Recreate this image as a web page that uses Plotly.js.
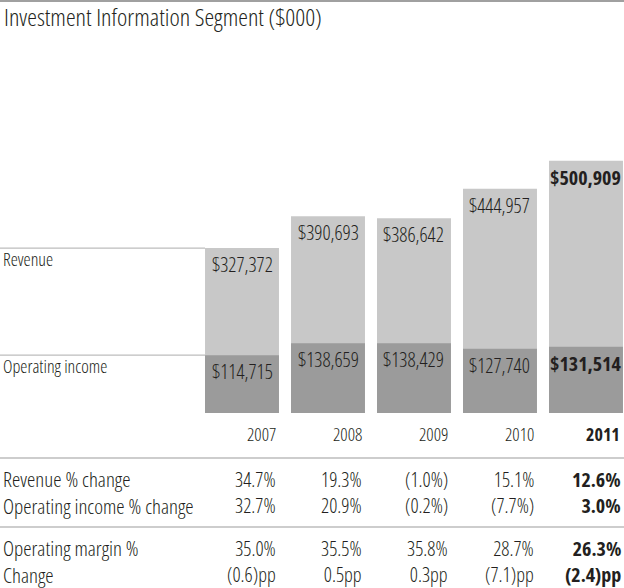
<!DOCTYPE html>
<html><head><meta charset="utf-8">
<script src="https://cdn.plot.ly/plotly-3.0.1.min.js"></script>
<style>
html,body{margin:0;padding:0;background:#fff}
#chart{width:624px;height:588px}
svg text, svg tspan{font-stretch:75% !important;}
</style>
</head><body><div id="chart"></div>
<script>
const years = ['2007','2008','2009','2010','2011'];
const revenue = [327372, 390693, 386642, 444957, 500909];
const opIncome = [114715, 138659, 138429, 127740, 131514];
const rowLabels = ['Revenue % change','Operating income % change','Operating margin %','Change'];
const revChange = ['34.7%','19.3%','(1.0%)','15.1%','12.6%'];
const opChange = ['32.7%','20.9%','(0.2%)','(7.7%)','3.0%'];
const opMargin = ['35.0%','35.5%','35.8%','28.7%','26.3%'];
const marginChange = ['(0.6)pp','0.5pp','0.3pp','(7.1)pp','(2.4)pp'];
const seriesNames = ['Revenue','Operating income'];
const title = 'Investment Information Segment ($000)';

const W = 624, H = 588;
const FONT = '"Open Sans", sans-serif';
const TXT = '#231f20';
const barW = 0.86;
const xr = [-2.814, 4.442];
const zeroPx = 413, perPx = 1985;
const yr = [-(H - zeroPx) * perPx, zeroPx * perPx];
const py = p => 1 - p / H;
const fmt = v => '$' + v.toLocaleString('en-US');
const last = years.length - 1;
const b = (s, i) => i === last ? '<b>' + s + '</b>' : s;
const f = size => ({family:FONT, size:size, color:TXT, weight:350});

const idx = years.map((_, i) => i);
const traces = [
  {type:'bar', x: idx, y: revenue, width: barW, marker:{color:'#c8c8c8'}, hoverinfo:'skip', name: seriesNames[0]},
  {type:'bar', x: idx, y: opIncome, width: barW, marker:{color:'#9b9b9b'}, hoverinfo:'skip', name: seriesNames[1]}
];

const ann = [];
const shapes = [];
shapes.push({type:'line', xref:'paper', yref:'paper', x0:0, x1:1, y0:py(1), y1:py(1), line:{color:'#a0a0a0', width:2}});
ann.push({xref:'paper', yref:'paper', x:2/W, y:py(17), xanchor:'left', yanchor:'middle', showarrow:false,
  text:title, font:f(24.5)});

idx.forEach(i => {
  ann.push({xref:'x', yref:'y', x:i, y:revenue[i], yanchor:'top', xanchor:'center', yshift:-1, showarrow:false,
    text:b(fmt(revenue[i]), i), font:f(20)});
  ann.push({xref:'x', yref:'y', x:i, y:opIncome[i], yanchor:'top', xanchor:'center', yshift:-1, showarrow:false,
    text:b(fmt(opIncome[i]), i), font:f(20)});
  ann.push({xref:'x', yref:'paper', x:i + barW/2, y:py(434), xanchor:'right', yanchor:'middle', xshift:-1, showarrow:false,
    text:b(years[i], i), font:f(18)});
});

[revenue[0], opIncome[0]].forEach((v, k) => {
  shapes.push({type:'line', xref:'x', yref:'y', x0:xr[0], x1:-barW/2, y0:v, y1:v, line:{color:'#bdbdbd', width:1.2}});
  ann.push({xref:'paper', yref:'y', x:0.5/W, y:v, xanchor:'left', yanchor:'top', yshift:3, showarrow:false,
    text:seriesNames[k], font:f(18)});
});

// table: two groups of two rows each
const groups = [[revChange, opChange], [opMargin, marginChange]];
const groupLabels = [[rowLabels[0], rowLabels[1]], [rowLabels[2], rowLabels[3]]];
const groupY = [492, 561.5];
groups.forEach((g, k) => {
  ann.push({xref:'paper', yref:'paper', x:0.5/W, y:py(groupY[k]), xanchor:'left', yanchor:'middle', align:'left', showarrow:false,
    text:groupLabels[k].join('<br>'), font:f(21)});
  idx.forEach(i => {
    ann.push({xref:'x', yref:'paper', x:i + barW/2, y:py(groupY[k]), xanchor:'right', yanchor:'middle', align:'right',
      xshift:(i === last ? 0 : -1), showarrow:false,
      text:g.map(r => b(r[i], i)).join('<br>'), font:f(20)});
  });
});
[458, 527].forEach(p => shapes.push({type:'line', xref:'paper', yref:'paper', x0:0, x1:1, y0:py(p), y1:py(p), line:{color:'#bdbdbd', width:1.5}}));

const layout = {
  width: W, height: H, margin:{l:0, r:0, t:0, b:0},
  paper_bgcolor:'#fff', plot_bgcolor:'#fff',
  barmode:'overlay', showlegend:false,
  xaxis:{range:xr, visible:false, fixedrange:true},
  yaxis:{range:yr, visible:false, fixedrange:true},
  annotations: ann, shapes: shapes
};
Plotly.newPlot('chart', traces, layout, {staticPlot:true, displayModeBar:false});
</script></body></html>
